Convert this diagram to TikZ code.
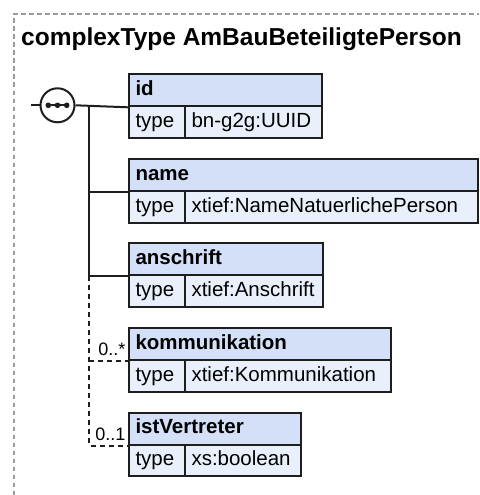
\documentclass[tikz,border=0pt]{standalone}
\usepackage{fontspec}
\setmainfont{Liberation Sans}
\definecolor{bordc}{HTML}{1E1E1E}
\definecolor{hdrc}{HTML}{D4E0F7}
\definecolor{rowc}{HTML}{EAF0FB}
\definecolor{framec}{HTML}{9A9A9A}
\begin{document}
\begin{tikzpicture}[x=1pt,y=-1pt,
  cell/.style={draw=bordc, line width=2pt, anchor=north west, inner xsep=6.5pt, inner ysep=0pt,
    text height=14.7pt, text depth=4.3pt, align=left},
  hdr/.style={cell, fill=hdrc, minimum height=32pt, font=\bfseries\fontsize{20.5}{24}\selectfont},
  row/.style={cell, fill=rowc, minimum height=31.5pt, font=\fontsize{20.5}{24}\selectfont},
  conn/.style={draw=bordc, line width=2pt},
  opt/.style={conn, dash pattern=on 5pt off 4pt},
  mult/.style={anchor=base east, inner sep=0pt, font=\fontsize{18}{20}\selectfont}]
\useasboundingbox (0,0) rectangle (479,495);
% frame
\draw[framec, line width=1.3pt, dash pattern=on 4.5pt off 3.5pt] (14,495) -- (14,14) -- (479,14);
\node[anchor=base west, inner sep=0pt, font=\bfseries\fontsize{24.5}{28}\selectfont] (title) at (21,46) {complexType AmBauBeteiligtePerson};
% elements
\node[hdr, text width=179.7pt] (id) at (128,73.3) {id};
\node[row, text width=43pt] (idt) at (128,105.3) {type};
\node[row, text width=123.7pt] (idv) at (184,105.3) {bn-g2g:UUID};

\node[hdr, text width=335.7pt] (name) at (128,158.3) {name};
\node[row, text width=43pt] (namet) at (128,190.3) {type};
\node[row, text width=279.7pt] (namev) at (184,190.3) {xtief:NameNatuerlichePerson};

\node[hdr, text width=181.3pt] (anschrift) at (128,242.3) {anschrift};
\node[row, text width=43pt] (anschriftt) at (128,274.3) {type};
\node[row, text width=125.3pt] (anschriftv) at (184,274.3) {xtief:Anschrift};

\node[hdr, text width=249pt] (komm) at (128,327.3) {kommunikation};
\node[row, text width=43pt] (kommt) at (128,359.3) {type};
\node[row, text width=193pt] (kommv) at (184,359.3) {xtief:Kommunikation};

\node[hdr, text width=159pt] (ist) at (128,411.7) {istVertreter};
\node[row, text width=43pt] (istt) at (128,443.7) {type};
\node[row, text width=103pt] (istv) at (184,443.7) {xs:boolean};

% sequence compositor
\node[circle, draw=bordc, fill=white, line width=2pt, minimum size=34pt, inner sep=0pt] (seq) at (57.5,105.3) {};
\coordinate (seqin) at (31,105.3);
\coordinate (j1) at (89.3,105.3);
\draw[conn] (seqin) -- (seq.west);
\draw[conn] (seq.east) -- (id.south west);
\draw[bordc, line width=2pt] (48.3,105.3) -- (66.7,105.3);
\fill[bordc] (48.3,105.3) circle (2.8) (57.5,105.3) circle (2.8) (66.7,105.3) circle (2.8);
% trunk
\draw[conn] (j1) |- (anschrift.south west);
\draw[conn] (name.south west -| j1) -- (name.south west);
\draw[opt] (anschrift.south west -| j1) |- (ist.south west);
\draw[opt] (komm.south west -| j1) -- (komm.south west);
\node[mult] (m1) at (125.5,355.5) {0..*};
\node[mult] (m2) at (125.5,440) {0..1};
\end{tikzpicture}
\end{document}
